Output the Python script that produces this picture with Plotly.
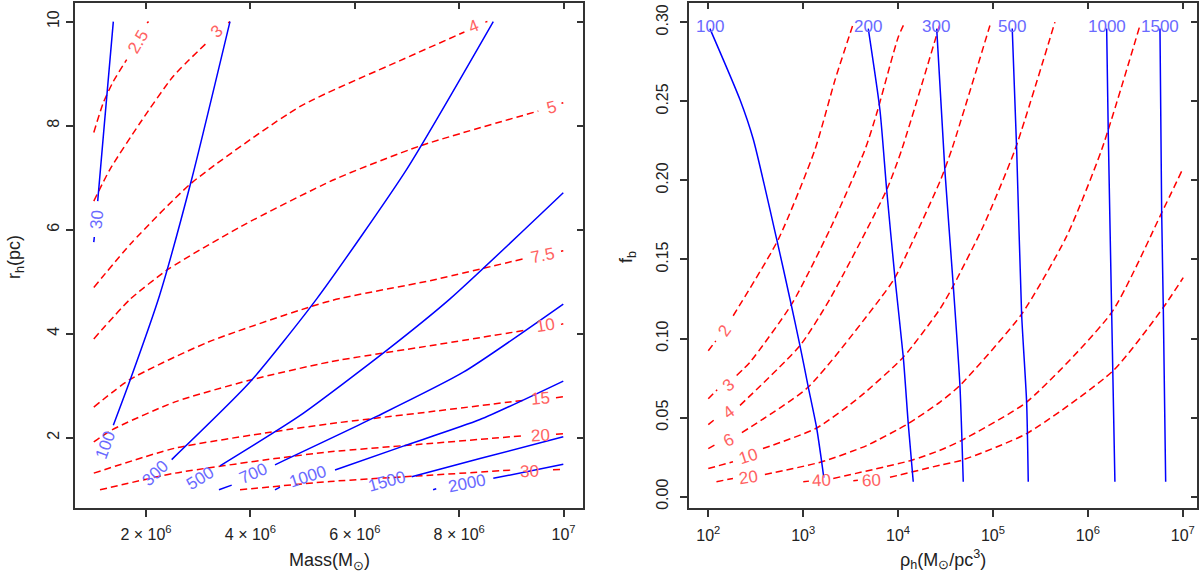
import math
import plotly.graph_objects as go

FONT = "Liberation Sans, Arial, Helvetica, sans-serif"
BLUE = "#0000ff"
RED = "#ff0000"
BLUE_LBL = "#6a6aff"
RED_LBL = "#ff6262"
AXC = "#333333"
DASH = "7px,4px"

# ===================== LEFT PANEL: Mass (Msun) vs r_h (pc) =====================
mass_ticks = [2e6, 4e6, 6e6, 8e6, 1e7]
mass_ticktext = ["2 × 10<sup>6</sup>", "4 × 10<sup>6</sup>", "6 × 10<sup>6</sup>",
                 "8 × 10<sup>6</sup>", "10<sup>7</sup>"]
rh_ticks = [2, 4, 6, 8, 10]

# blue solid contours
b30_mass = [1.000e6, 1.010e6, None, 1.075e6, 1.200e6, 1.374e6]
b30_rh = [5.76, 5.86, None, 6.55, 8.00, 10.00]
b100_mass = [1.374e6, 1.693e6, 2.255e6, 2.875e6, 3.609e6]
b100_rh = [2.24, 3.10, 4.72, 6.97, 10.00]
b300_mass = [2.492e6, 3.992e6, 5.270e6, 6.994e6, 8.653e6]
b300_rh = [1.58, 3.07, 4.67, 7.16, 10.00]
b500_mass = [3.418e6, 4.954e6, 6.611e6, 7.824e6, 9.994e6]
b500_rh = [1.46, 2.43, 3.68, 4.67, 6.71]
b700_mass = [3.398e6, 3.642e6, None, 4.471e6, 6.420e6, 8.079e6, 9.994e6]
b700_rh = [1.00, 1.09, None, 1.48, 2.41, 3.26, 4.57]
b1000_mass = [4.471e6, 4.567e6, None, 5.621e6, 6.929e6, 8.398e6, 9.994e6]
b1000_rh = [1.00, 1.05, None, 1.38, 1.84, 2.35, 3.09]
b1500_mass = [7.090e6, 8.398e6, 9.994e6]
b1500_rh = [1.25, 1.60, 2.02]
b2000_mass = [7.500e6, 7.560e6, None, 8.653e6, 9.994e6]
b2000_rh = [1.00, 1.02, None, 1.22, 1.49]

# red dashed contours
r25_mass = [1.000e6, 1.182e6, 1.374e6, 1.630e6, None, 2.020e6, 2.050e6]
r25_rh = [7.87, 8.44, 8.85, 9.27, None, 9.975, 10.00]
r3_mass = [1.000e6, 1.310e6, 1.885e6, 2.523e6, 3.193e6, None, 3.575e6, 3.610e6]
r3_rh = [6.55, 7.16, 8.05, 8.95, 9.62, None, 9.975, 10.00]
r4_mass = [1.000e6, 1.726e6, 2.875e6, 4.954e6, 6.868e6, 8.100e6, None, 8.500e6, 8.540e6]
r4_rh = [4.89, 5.75, 6.90, 8.37, 9.25, 9.80, None, 9.99, 10.00]
r5_mass = [1.000e6, 1.693e6, 2.427e6, 3.833e6, 5.621e6, 7.249e6, 9.515e6, None, 9.960e6, 9.994e6]
r5_rh = [3.90, 4.66, 5.24, 6.07, 6.97, 7.61, 8.28, None, 8.43, 8.44]
r75_mass = [1.000e6, 1.693e6, 3.193e6, 5.525e6, 7.441e6, 9.228e6, None, 9.950e6, 9.994e6]
r75_rh = [2.59, 3.12, 3.84, 4.63, 5.02, 5.44, None, 5.585, 5.594]
r10_mass = [1.000e6, 1.343e6, 2.556e6, 3.960e6, 5.525e6, 7.441e6, 9.228e6, None, 9.950e6, 9.994e6]
r10_rh = [1.92, 2.15, 2.69, 3.10, 3.46, 3.77, 4.06, None, 4.18, 4.19]
r15_mass = [1.000e6, 2.556e6, 4.471e6, 5.525e6, 7.441e6, 9.228e6, None, 9.854e6, 9.994e6]
r15_rh = [1.32, 1.80, 2.12, 2.27, 2.50, 2.72, None, 2.77, 2.79]
r20_mass = [1.119e6, 2.556e6, 4.471e6, 5.525e6, 7.441e6, 9.228e6, None, 9.854e6, 9.994e6]
r20_rh = [1.00, 1.32, 1.60, 1.73, 1.89, 2.04, None, 2.07, 2.08]
r30_mass = [3.801e6, 5.525e6, 7.441e6, 9.006e6, None, 9.797e6, 9.994e6]
r30_rh = [1.00, 1.16, 1.28, 1.38, None, 1.385, 1.39]

# contour labels (left)
lb_text = ["30", "100", "300", "500", "700", "1000", "1500", "2000"]
lb_mass = [1.056e6, 1.215e6, 2.172e6, 3.034e6, 4.056e6, 5.109e6, 6.611e6, 8.144e6]
lb_rh = [6.20, 1.86, 1.32, 1.22, 1.32, 1.25, 1.16, 1.13]
lb_angle = [-85, -70, -43, -32, -24, -18, -15, -11]

lr_text = ["2.5", "3", "4", "5", "7.5", "10", "15", "20", "30"]
lr_mass = [1.853e6, 3.354e6, 8.27e6, 9.772e6, 9.611e6, 9.644e6, 9.548e6, 9.561e6, 9.356e6]
lr_rh = [9.62, 9.81, 9.90, 8.34, 5.50, 4.16, 2.75, 2.05, 1.36]
lr_angle = [-60, -42, -22, -15, -12, -9, -5, -3, -2]

# ===================== RIGHT PANEL: rho_h vs f_b =====================
rho_ticks = [1e2, 1e3, 1e4, 1e5, 1e6, 1e7]
rho_ticktext = ["10<sup>2</sup>", "10<sup>3</sup>", "10<sup>4</sup>", "10<sup>5</sup>",
                "10<sup>6</sup>", "10<sup>7</sup>"]
fb_ticks = [0.00, 0.05, 0.10, 0.15, 0.20, 0.25, 0.30]
fb_ticktext = ["0.00", "0.05", "0.10", "0.15", "0.20", "0.25", "0.30"]

# blue solid contours
c100_rho = [104, 216, 298, 525, 726, 925, 1132, 1387, 1567, 1650]
c100_fb = [0.296, 0.251, 0.226, 0.163, 0.125, 0.0955, 0.0693, 0.0434, 0.022, 0.012]
c200_rho = [4853, 6442, 7586, 9268, 11350, 12800, 14450]
c200_fb = [0.296, 0.2445, 0.194, 0.1385, 0.0882, 0.0462, 0.0094]
c300_rho = [25530, 31190, 38190, 44870, 48640]
c300_fb = [0.296, 0.2057, 0.1333, 0.0703, 0.0094]
c500_rho = [159600, 177800, 200500, 226300, 235500]
c500_fb = [0.296, 0.2193, 0.1154, 0.0598, 0.0094]
c1000_rho = [1.578e6, 1.641e6, 1.782e6, 1.928e6]
c1000_fb = [0.296, 0.2298, 0.1165, 0.0094]
c1500_rho = [5.754e6, 5.998e6, 6.237e6, 6.607e6]
c1500_fb = [0.296, 0.1795, 0.1196, 0.0094]

# red dashed contours
d2_rho = [100, 120, None, 183, 547, 1330, 2163, 3373]
d2_fb = [0.0923, 0.0985, None, 0.1144, 0.1627, 0.2194, 0.2634, 0.2991]
d3_rho = [100, 124, None, 199, 275, 757, 1914, 4477, 5957, 10050, 11830]
d3_fb = [0.0619, 0.0676, None, 0.0766, 0.085, 0.1217, 0.169, 0.2194, 0.2424, 0.2907, 0.3001]
d4_rho = [100, 120, None, 216, 925, 1914, 7586, 10920, 27670]
d4_fb = [0.0455, 0.0494, None, 0.0577, 0.0955, 0.125, 0.1941, 0.2194, 0.2991]
d6_rho = [100, 120, None, 226, 1132, 6442, 9268, 27670, 36730, 92900]
d6_fb = [0.0304, 0.033, None, 0.0405, 0.0693, 0.125, 0.1385, 0.1994, 0.2194, 0.298]
d10_rho = [100, 182, None, 377, 1387, 3972, 11350, 27670, 38190, 79070, 170600, 449800]
d10_fb = [0.0178, 0.022, None, 0.0304, 0.0434, 0.0632, 0.0882, 0.1187, 0.1333, 0.171, 0.2194, 0.3001]
d20_rho = [122, 182, None, 395, 1567, 4667, 12800, 27670, 44870, 200500, 598400, 1.396e6, 3.54e6]
d20_fb = [0.0094, 0.0115, None, 0.014, 0.022, 0.0323, 0.0462, 0.0598, 0.0703, 0.1154, 0.1647, 0.2193, 0.298]
d40_rho = [1002, 1151, None, 2075, 13900, 27670, 46770, 226300, 1.782e6, 5.998e6, 9.727e6]
d40_fb = [0.0094, 0.0098, None, 0.0115, 0.023, 0.0293, 0.0356, 0.0598, 0.1165, 0.1795, 0.2057]
d60_rho = [3373, 3776, None, 8222, 27670, 46770, 226300, 1.854e6, 6.237e6, 1.012e7]
d60_fb = [0.0101, 0.0103, None, 0.0122, 0.0199, 0.023, 0.0399, 0.0797, 0.1196, 0.1385]

# contour labels (right)
rb_text = ["100", "200", "300", "500", "1000", "1500"]
rb_rho = [104, 4853, 25270, 157400, 1.601e6, 5.754e6]
rb_fb = [0.2973, 0.2973, 0.2973, 0.2973, 0.2973, 0.2973]

rr_text = ["2", "3", "4", "6", "10", "20", "40", "60"]
rr_rho = [150, 163, 163, 163, 264, 264, 1567, 5272]
rr_fb = [0.1049, 0.0703, 0.0535, 0.0356, 0.0252, 0.0120, 0.0105, 0.0105]
rr_angle = [-55, -40, -36, -25, -18, -8, -3, -3]

# ============================================================================
fig = go.Figure()


def add_line(xs, ys, color, dash, xa, ya):
    fig.add_trace(go.Scatter(
        x=xs, y=ys, mode="lines", connectgaps=False,
        line=dict(color=color, width=1.5, dash=dash, shape="spline", smoothing=0.6),
        xaxis=xa, yaxis=ya, showlegend=False, hoverinfo="skip"))


left_red = [(r25_mass, r25_rh), (r3_mass, r3_rh), (r4_mass, r4_rh), (r5_mass, r5_rh),
            (r75_mass, r75_rh), (r10_mass, r10_rh), (r15_mass, r15_rh),
            (r20_mass, r20_rh), (r30_mass, r30_rh)]
left_blue = [(b30_mass, b30_rh), (b100_mass, b100_rh), (b300_mass, b300_rh),
             (b500_mass, b500_rh), (b700_mass, b700_rh), (b1000_mass, b1000_rh),
             (b1500_mass, b1500_rh), (b2000_mass, b2000_rh)]
right_red = [(d2_rho, d2_fb), (d3_rho, d3_fb), (d4_rho, d4_fb), (d6_rho, d6_fb),
             (d10_rho, d10_fb), (d20_rho, d20_fb), (d40_rho, d40_fb), (d60_rho, d60_fb)]
right_blue = [(c100_rho, c100_fb), (c200_rho, c200_fb), (c300_rho, c300_fb),
              (c500_rho, c500_fb), (c1000_rho, c1000_fb), (c1500_rho, c1500_fb)]

for xs, ys in left_red:
    add_line(xs, ys, RED, DASH, "x", "y")
for xs, ys in left_blue:
    add_line(xs, ys, BLUE, "solid", "x", "y")
for xs, ys in right_red:
    add_line(xs, ys, RED, DASH, "x2", "y2")
for xs, ys in right_blue:
    add_line(xs, ys, BLUE, "solid", "x2", "y2")

# dummy traces so that the mirrored (inward-tick) axes get drawn
for xa, ya in [("x3", "y"), ("x", "y3"), ("x4", "y2"), ("x2", "y4")]:
    fig.add_trace(go.Scatter(x=[None], y=[None], xaxis=xa, yaxis=ya,
                             showlegend=False, hoverinfo="skip"))

ann = []
LBL_SIZE = 17
for t, x, y, a in zip(lb_text, lb_mass, lb_rh, lb_angle):
    ann.append(dict(text=t, x=x, y=y, xref="x", yref="y", showarrow=False, textangle=a,
                    font=dict(family=FONT, size=LBL_SIZE, color=BLUE_LBL)))
for t, x, y, a in zip(lr_text, lr_mass, lr_rh, lr_angle):
    ann.append(dict(text=t, x=x, y=y, xref="x", yref="y", showarrow=False, textangle=a,
                    font=dict(family=FONT, size=LBL_SIZE, color=RED_LBL)))
for t, x, y in zip(rb_text, rb_rho, rb_fb):
    ann.append(dict(text=t, x=math.log10(x), y=y, xref="x2", yref="y2", showarrow=False,
                    font=dict(family=FONT, size=LBL_SIZE, color=BLUE_LBL)))
for t, x, y, a in zip(rr_text, rr_rho, rr_fb, rr_angle):
    ann.append(dict(text=t, x=math.log10(x), y=y, xref="x2", yref="y2", showarrow=False,
                    textangle=a, font=dict(family=FONT, size=LBL_SIZE, color=RED_LBL)))

# axis titles
TT = dict(family=FONT, size=18, color="#222")
ann.append(dict(text="Mass(M<sub>⊙</sub>)", x=329 / 1200, y=1 - 563 / 577, xref="paper",
                yref="paper", xanchor="center", yanchor="middle", showarrow=False, font=TT))
ann.append(dict(text="ρ<sub>h</sub>(M<sub>⊙</sub>/pc<sup>3</sup>)", x=943 / 1200, y=1 - 561 / 577,
                xref="paper", yref="paper", xanchor="center", yanchor="middle",
                showarrow=False, font=TT))
ann.append(dict(text="r<sub>h</sub>(pc)", x=15 / 1200, y=1 - 258 / 577, xref="paper",
                yref="paper", xanchor="center", yanchor="middle", showarrow=False,
                textangle=-90, font=TT))
ann.append(dict(text="f<sub>b</sub>", x=627 / 1200, y=1 - 258 / 577, xref="paper",
                yref="paper", xanchor="center", yanchor="middle", showarrow=False,
                textangle=-90, font=TT))

TF = dict(family=FONT, size=16, color="#222")
XD1 = [75 / 1200, 582.7 / 1200]
XD2 = [689.3 / 1200, 1196.7 / 1200]
YD = [1 - 509.3 / 577, 1 - 3.3 / 577]
XR1 = [0.64e6, 10.366e6]
YR1 = [0.659, 10.352]
XR2 = [1.80, 7.147]
YR2 = [-0.0069, 0.312]

base = dict(showgrid=False, zeroline=False, tickcolor=AXC, tickwidth=1.5, tickfont=TF)
inner = dict(showgrid=False, zeroline=False, tickcolor=AXC, tickwidth=1.5, ticks="inside",
             ticklen=6, showticklabels=False, showline=False)

fig.update_layout(
    width=1200, height=577,
    margin=dict(l=0, r=0, t=0, b=0),
    paper_bgcolor="white", plot_bgcolor="white",
    showlegend=False,
    xaxis=dict(domain=XD1, range=XR1, tickvals=mass_ticks, ticktext=mass_ticktext,
               ticks="outside", ticklen=7, showline=True, linecolor=AXC, linewidth=2,
               mirror=True, anchor="y", ticklabelstandoff=4, **base),
    yaxis=dict(domain=YD, range=YR1, tickvals=rh_ticks, tickangle=-90,
               ticks="outside", ticklen=7, showline=True, linecolor=AXC, linewidth=2,
               mirror=True, anchor="x", ticklabelstandoff=1, **base),
    xaxis2=dict(domain=XD2, type="log", range=XR2, tickvals=rho_ticks, ticktext=rho_ticktext,
                ticks="outside", ticklen=7, showline=True, linecolor=AXC, linewidth=2,
                mirror=True, anchor="y2", ticklabelstandoff=5, **base),
    yaxis2=dict(domain=YD, range=YR2, tickvals=fb_ticks, ticktext=fb_ticktext, tickangle=-90,
                ticks="outside", ticklen=7, showline=True, linecolor=AXC, linewidth=2,
                mirror=True, anchor="x2", ticklabelstandoff=6, **base),
    xaxis3=dict(overlaying="x", side="top", anchor="y", range=XR1, tickvals=mass_ticks, **inner),
    yaxis3=dict(overlaying="y", side="right", anchor="x", range=YR1, tickvals=rh_ticks, **inner),
    xaxis4=dict(overlaying="x2", side="top", anchor="y2", type="log", range=XR2,
                tickvals=rho_ticks, **inner),
    yaxis4=dict(overlaying="y2", side="right", anchor="x2", range=YR2, tickvals=fb_ticks, **inner),
    annotations=ann,
)

fig.write_html("out.html")
